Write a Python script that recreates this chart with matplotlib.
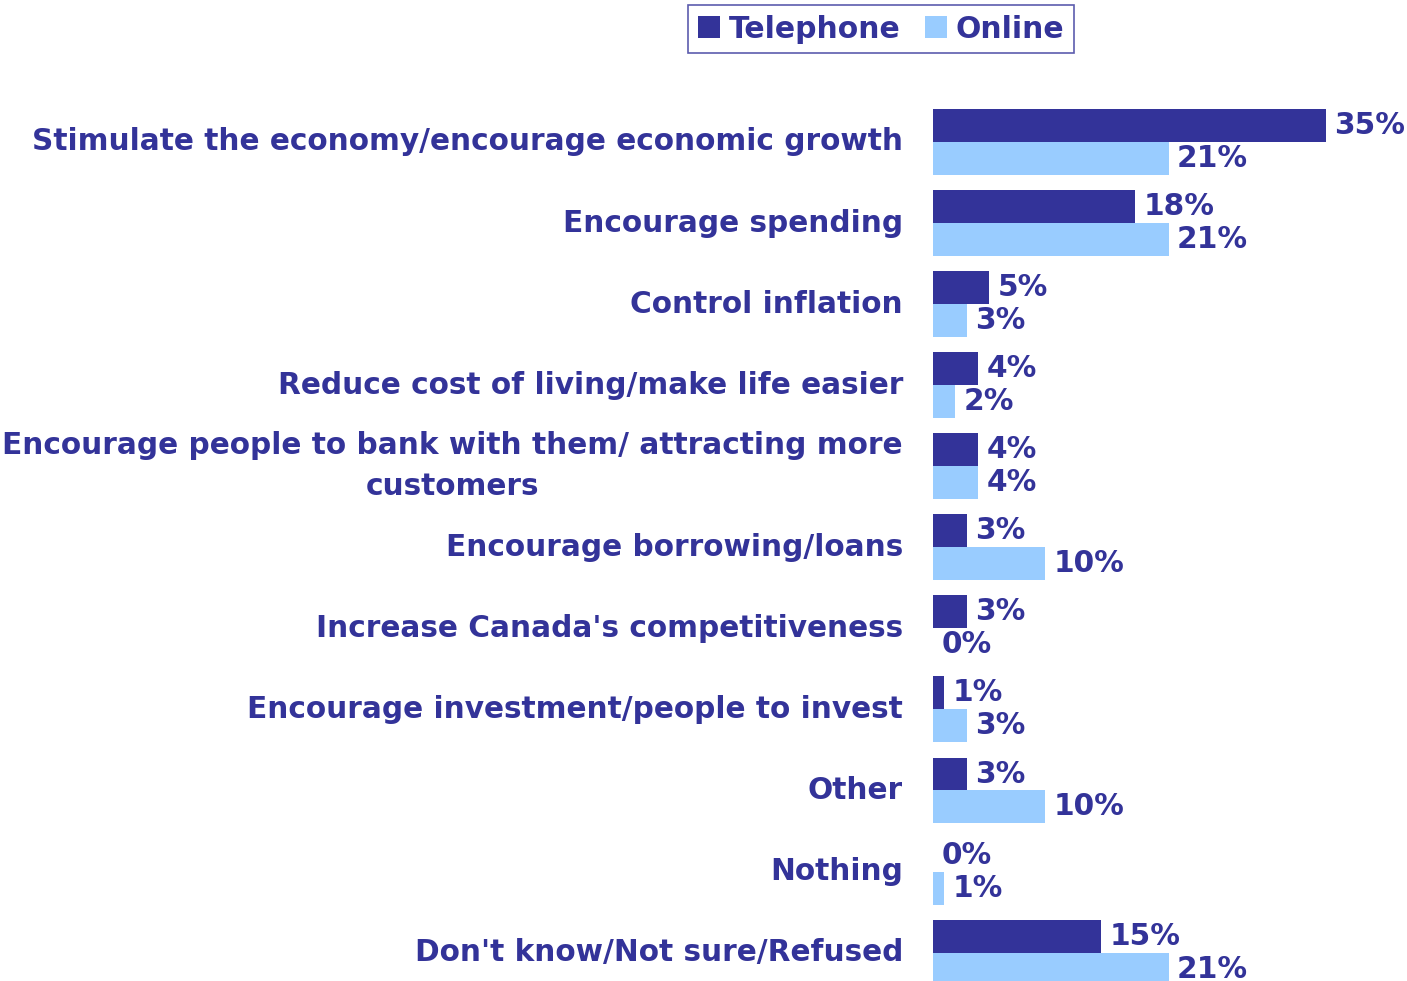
import matplotlib
matplotlib.use("Agg")
import matplotlib.pyplot as plt
import numpy as np

categories = [
    "Stimulate the economy/encourage economic growth",
    "Encourage spending",
    "Control inflation",
    "Reduce cost of living/make life easier",
    "Encourage people to bank with them/ attracting more\ncustomers",
    "Encourage borrowing/loans",
    "Increase Canada's competitiveness",
    "Encourage investment/people to invest",
    "Other",
    "Nothing",
    "Don't know/Not sure/Refused",
]
telephone = [35, 18, 5, 4, 4, 3, 3, 1, 3, 0, 15]
online = [21, 21, 3, 2, 4, 10, 0, 3, 10, 1, 21]

DARK = "#333399"
LIGHT = "#99CCFF"
FONT = "DejaVu Sans"

W, H = 1407, 981
fig = plt.figure(figsize=(W / 100, H / 100), dpi=100)

# axes placed in pixel terms: x from 933px, y spans the bar groups
left_px, right_px = 933, 1382
top_px, bot_px = 101.45, 981.0
ax = fig.add_axes([left_px / W, 1 - bot_px / H, (right_px - left_px) / W, (bot_px - top_px) / H])

y = np.arange(len(categories))
h = 0.407
b1 = ax.barh(y - h / 2, telephone, height=h, color=DARK, label="Telephone")
b2 = ax.barh(y + h / 2, online, height=h, color=LIGHT, label="Online")

ax.set_xlim(0, 40)
ax.set_ylim(10.35, -0.5)
ax.axis("off")

fs = 21.3
for bars, vals in ((b1, telephone), (b2, online)):
    for rect, v in zip(bars, vals):
        ax.annotate(f"{v}%", xy=(v, rect.get_y() + rect.get_height() / 2),
                    xytext=(6, 0), textcoords="offset points",
                    ha="left", va="center", fontsize=fs, fontweight="bold",
                    color=DARK, family=FONT, annotation_clip=False)

for i, cat in enumerate(categories):
    ax.annotate(cat, xy=(0, i), xytext=(-30 * 0.72, 0), textcoords="offset points",
                ha="right", va="center", multialignment="center",
                fontsize=fs, fontweight="bold", color=DARK, family=FONT,
                linespacing=1.5, annotation_clip=False)

leg = fig.legend(handles=[b1, b2], labels=["Telephone", "Online"], ncol=2,
                 loc="center", bbox_to_anchor=(881 / W, 1 - 29 / H),
                 frameon=True, fancybox=False, edgecolor=DARK,
                 prop={"family": FONT, "weight": "bold", "size": 21.5},
                 handlelength=0.75, handleheight=0.75, handletextpad=0.3,
                 columnspacing=0.8, borderpad=0.33, borderaxespad=0)
for t in leg.get_texts():
    t.set_color(DARK)
leg.get_frame().set_linewidth(1.2)

fig.savefig("out.png", dpi=100)
